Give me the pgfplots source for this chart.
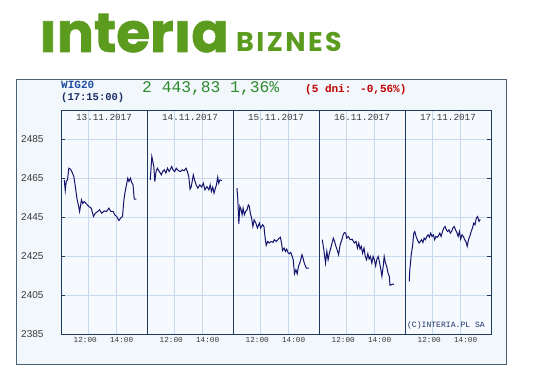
\documentclass[border=0pt]{standalone}
\usepackage{fontspec}
\setmainfont{Liberation Sans}
\newfontfamily\mono{Liberation Mono}
\newfontfamily\logofont{Poppins}[BoldFeatures={FakeBold=1.2}]
\newfontfamily\bizfont{Poppins}[LetterSpace=9]
\usepackage{pgfplots}
\usepackage{pgfplotstable}
\pgfplotsset{compat=1.18}

\definecolor{sepc}{HTML}{1E3A5F}
\definecolor{gridc}{HTML}{C8D9EB}
\definecolor{plotbg}{HTML}{F6FAFE}
\definecolor{outbg}{HTML}{F2F7FC}
\definecolor{outborder}{HTML}{4A6378}
\definecolor{linec}{HTML}{14146E}
\definecolor{wigblue}{HTML}{1F4FA0}
\definecolor{timec}{HTML}{1B2F66}
\definecolor{valgreen}{HTML}{2E8B2E}
\definecolor{valred}{HTML}{C00000}
\definecolor{logogreen}{HTML}{5B9B1E}
\definecolor{labc}{HTML}{3A3A3A}

\pgfplotstableread{
t v
10.33 2464.1
10.40 2458.7
10.47 2463.3
10.56 2464.1
10.65 2470.1
10.77 2469.6
10.86 2468.4
11.00 2465.9
11.11 2460.7
11.22 2454.7
11.32 2451.3
11.41 2447.9
11.54 2453.9
11.63 2452.0
11.73 2453.0
11.89 2451.8
12.05 2450.5
12.23 2449.6
12.39 2445.3
12.51 2447.0
12.69 2447.9
12.81 2448.8
12.97 2447.0
13.15 2448.2
13.31 2447.9
13.47 2449.6
13.61 2447.9
13.77 2447.9
13.88 2446.2
14.02 2445.3
14.18 2443.3
14.30 2444.5
14.43 2445.3
14.53 2453.9
14.62 2458.2
14.71 2461.6
14.80 2465.0
14.89 2463.3
14.99 2465.0
15.08 2462.8
15.17 2461.6
15.26 2454.2
15.40 2454.2
}\dayA

\pgfplotstableread{
t v
10.33 2464.1
10.44 2476.1
10.51 2473.5
10.58 2471.0
10.65 2463.3
10.74 2468.4
10.83 2470.1
10.97 2468.4
11.11 2466.7
11.20 2468.4
11.32 2469.3
11.43 2467.6
11.54 2470.1
11.66 2468.4
11.84 2471.0
11.93 2469.3
12.05 2468.4
12.16 2470.1
12.30 2468.9
12.46 2468.4
12.58 2469.3
12.71 2468.8
12.85 2470.1
12.94 2468.4
13.04 2465.9
13.13 2459.4
13.22 2460.7
13.36 2466.7
13.45 2464.1
13.56 2461.6
13.68 2459.9
13.82 2461.6
13.95 2460.4
14.07 2462.4
14.18 2459.0
14.32 2460.7
14.46 2459.0
14.55 2461.6
14.64 2458.2
14.73 2460.4
14.82 2457.3
14.92 2459.9
14.99 2461.6
15.08 2465.5
15.15 2462.4
15.24 2464.1
15.38 2463.8
}\dayB

\pgfplotstableread{
t v
10.38 2459.9
10.44 2453.9
10.51 2441.6
10.58 2450.5
10.67 2448.8
10.74 2446.2
10.81 2449.6
10.90 2446.2
10.99 2447.9
11.09 2448.8
11.18 2451.3
11.25 2450.5
11.32 2447.0
11.41 2444.5
11.50 2440.2
11.59 2443.6
11.71 2441.9
11.82 2439.4
11.96 2441.9
12.05 2439.4
12.19 2441.1
12.28 2440.2
12.35 2435.1
12.44 2430.5
12.55 2432.5
12.67 2431.7
12.78 2432.5
12.92 2432.0
13.01 2433.4
13.15 2432.5
13.29 2433.7
13.43 2434.7
13.52 2431.7
13.59 2427.9
13.70 2429.1
13.79 2427.4
13.88 2428.6
13.99 2426.5
14.07 2426.2
14.16 2426.9
14.25 2425.2
14.34 2423.1
14.43 2415.9
14.53 2418.0
14.62 2415.9
14.71 2419.7
14.80 2421.4
14.87 2423.1
14.96 2425.7
15.03 2424.0
15.12 2421.4
15.26 2418.8
15.44 2418.8
}\dayC

\pgfplotstableread{
t v
10.33 2433.4
10.44 2428.2
10.56 2421.4
10.65 2427.4
10.74 2423.1
10.83 2426.5
10.93 2429.1
11.02 2431.7
11.11 2434.2
11.20 2432.5
11.29 2430.0
11.38 2428.2
11.48 2425.7
11.59 2430.8
11.71 2433.4
11.80 2435.9
11.89 2437.1
11.98 2436.8
12.05 2434.2
12.16 2435.1
12.30 2433.4
12.44 2433.7
12.58 2431.7
12.71 2432.5
12.81 2429.1
12.90 2431.7
12.99 2428.6
13.08 2430.0
13.17 2426.5
13.27 2429.1
13.36 2424.8
13.45 2423.1
13.54 2426.2
13.63 2423.5
13.72 2424.8
13.82 2421.4
13.91 2424.8
14.00 2423.1
14.09 2420.0
14.18 2423.5
14.27 2424.8
14.37 2421.4
14.46 2418.0
14.53 2414.6
14.62 2419.7
14.69 2424.8
14.78 2421.4
14.87 2419.7
14.96 2416.3
15.05 2414.6
15.10 2410.0
15.19 2410.3
15.28 2410.6
15.38 2410.5
}\dayD

\pgfplotstableread{
t v
10.40 2412.0
10.44 2418.0
10.54 2425.7
10.63 2430.0
10.72 2436.8
10.79 2437.6
10.88 2435.1
10.97 2433.4
11.09 2431.7
11.18 2432.5
11.27 2433.4
11.36 2432.0
11.45 2434.2
11.54 2433.4
11.64 2435.1
11.73 2435.9
11.82 2434.7
11.91 2436.8
12.00 2435.1
12.10 2435.9
12.19 2433.4
12.28 2435.1
12.37 2434.7
12.46 2435.4
12.55 2436.8
12.64 2435.1
12.74 2437.6
12.83 2439.4
12.92 2440.2
13.01 2438.5
13.10 2437.6
13.20 2438.5
13.29 2436.8
13.38 2437.6
13.47 2439.4
13.56 2440.2
13.66 2438.5
13.75 2437.1
13.84 2435.1
13.93 2437.6
14.02 2433.7
14.11 2435.9
14.21 2435.1
14.30 2433.4
14.39 2432.5
14.48 2430.0
14.57 2433.4
14.66 2435.1
14.76 2437.6
14.85 2439.4
14.94 2441.9
15.03 2441.1
15.12 2444.5
15.21 2445.3
15.31 2442.8
15.40 2443.8
}\dayE

\begin{document}
\begin{tikzpicture}[x=1pt,y=1pt]
\useasboundingbox (0,0) rectangle (535,371);
\fill[white] (0,0) rectangle (535,371);
% logo
\node[anchor=base west, inner sep=0, text=logogreen] at (39,319)
  {\logofont\bfseries\fontsize{55}{55}\selectfont ınterıa};
\node[anchor=base west, inner sep=0, text=logogreen] at (236,319)
  {\bizfont\bfseries\fontsize{27}{27}\selectfont BIZNES};
% outer box
\filldraw[fill=outbg, draw=outborder, line width=0.9pt] (16,7) rectangle (506,292);
% header
\node[anchor=west, inner sep=0, text=wigblue] at (61,286)
  {\mono\bfseries\fontsize{11}{11}\selectfont WIG20};
\node[anchor=west, inner sep=0, text=timec] at (61,273)
  {\mono\bfseries\fontsize{10.5}{10.5}\selectfont (17:15:00)};
\node[anchor=west, inner sep=0, text=valgreen] at (142,282)
  {\mono\fontsize{16.3}{16.3}\selectfont 2 443,83 1,36\%};
\node[anchor=west, inner sep=0, text=valred] at (305,281)
  {\mono\bfseries\fontsize{11}{11}\selectfont (5 dni: -0,56\%)};

\begin{axis}[
  at={(61pt,37pt)}, anchor=south west,
  scale only axis, width=430pt, height=224pt,
  xmin=0, xmax=30.28, ymin=2385, ymax=2500,
  clip=false,
  axis background/.style={fill=plotbg},
  axis line style={draw=sepc, line width=0.9pt},
  ytick={2385,2405,2425,2445,2465,2485},
  yticklabels={2385,2405,2425,2445,2465,2485},
  yticklabel style={font=\fontsize{10}{10}\selectfont, text=labc, xshift=-14pt},
  ytick pos=both, tick align=inside,
  ytick style={draw=sepc, line width=0.8pt},
  major tick length=4pt,
  xtick={1.92,3.92,7.976,9.976,14.032,16.032,20.088,22.088,26.144,28.144},
  xticklabels={},
  xtick style={draw=none},
  xmajorgrids, ymajorgrids,
  grid style={draw=gridc, line width=0.7pt},
  extra x ticks={6.056,12.112,18.168,24.224},
  extra x tick labels={},
  extra x tick style={major grid style={draw=sepc, line width=0.9pt}, xtick style={draw=none}},
]
\addplot[linec, line width=1pt] table[x expr=\thisrow{t}-10.1, y=v] {\dayA};
\addplot[linec, line width=1pt] table[x expr=\thisrow{t}-10.1+6.056, y=v] {\dayB};
\addplot[linec, line width=1pt] table[x expr=\thisrow{t}-10.1+12.112, y=v] {\dayC};
\addplot[linec, line width=1pt] table[x expr=\thisrow{t}-10.1+18.168, y=v] {\dayD};
\addplot[linec, line width=1pt] table[x expr=\thisrow{t}-10.1+24.224, y=v] {\dayE};

\foreach \d/\lab in {0/13.11.2017,1/14.11.2017,2/15.11.2017,3/16.11.2017,4/17.11.2017} {
  \edef\tmp{\noexpand\node[text=labc, inner sep=0, font=\noexpand\mono\noexpand\fontsize{9.3}{9.3}\noexpand\selectfont] at (axis cs:{\d*6.056+3.028},2496.3) {\lab};}
  \tmp
  \edef\tmp{\noexpand\node[anchor=north, text=labc, inner sep=0, font=\noexpand\mono\noexpand\fontsize{7.7}{7.7}\noexpand\selectfont] at (axis cs:{\d*6.056+1.71},2385) [yshift=-3.5pt] {12:00};}
  \tmp
  \edef\tmp{\noexpand\node[anchor=north, text=labc, inner sep=0, font=\noexpand\mono\noexpand\fontsize{7.7}{7.7}\noexpand\selectfont] at (axis cs:{\d*6.056+4.27},2385) [yshift=-3.5pt] {14:00};}
  \tmp
}
\node[anchor=east, inner sep=0, text=timec, font=\mono\fontsize{8.1}{8.1}\selectfont] at (axis cs:29.86,2389.6) {(C)INTERIA.PL SA};
\end{axis}
\end{tikzpicture}
\end{document}
